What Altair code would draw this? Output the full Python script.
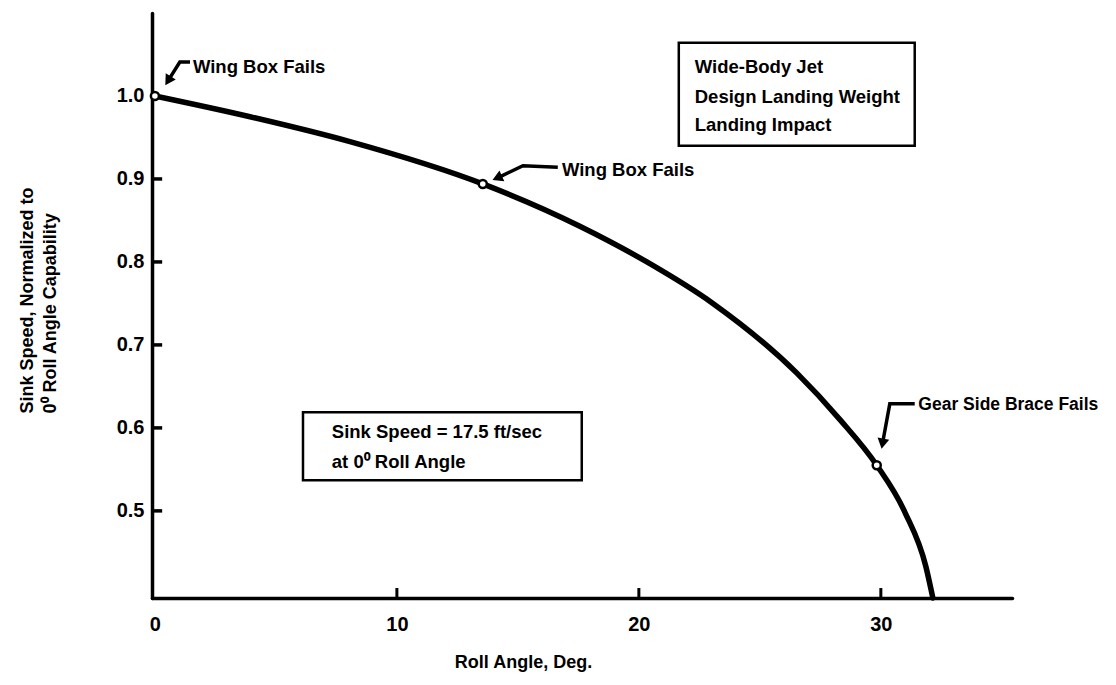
import altair as alt
import pandas as pd

FONT = "Liberation Sans"

# ---- data ----
roll_angle = [0.0, 3.93, 8.06, 13.55, 17.56, 20.33, 23.06, 26.53, 28.31, 29.83, 31.0, 31.86, 32.15]
sink_norm = [1.0, 0.975, 0.945, 0.894, 0.843, 0.800, 0.750, 0.666, 0.610, 0.555, 0.498, 0.433, 0.395]

fail_roll = [0.0, 13.55, 29.83]
fail_sink = [1.0, 0.894, 0.555]
fail_labels = ["Wing Box Fails", "Wing Box Fails", "Gear Side Brace Fails"]
label_x = [1.57, 16.82, 31.55]
label_y = [1.035, 0.911, 0.628]
label_size = [18.5, 18.5, 17.5]

# leader lines (group, order, x, y)
leader_g = [0, 0, 0, 1, 1, 1, 2, 2, 2]
leader_o = [0, 1, 2, 0, 1, 2, 0, 1, 2]
leader_x = [1.45, 1.03, 0.58, 16.65, 15.21, 14.21, 31.4, 30.37, 30.08]
leader_y = [1.041, 1.041, 1.020, 0.914, 0.916, 0.902, 0.629, 0.629, 0.583]
head_x = [0.58, 14.21, 30.08]
head_y = [1.020, 0.902, 0.583]
head_angle = [212, 246, 190]

x_ticks = [0, 10, 20, 30]
y_ticks = [0.5, 0.6, 0.7, 0.8, 0.9, 1.0]
y_minor = [0.5, 0.6, 0.7, 0.8, 0.9]
x_minor = [10, 20, 30]

X_DOMAIN = [-0.12, 35.42]
Y_DOMAIN = [0.395, 1.1]

box1_lines = ["Wide-Body Jet", "Design Landing Weight", "Landing Impact"]
box1_line_y = [1.035, 0.999, 0.965]
box1_text_x = 22.31
box1 = dict(x=21.65, x2=31.4, y=1.064, y2=0.940)

box2_lines = ["Sink Speed = 17.5 ft/sec", "at 0\u2070 Roll Angle"]
box2_line_y = [0.595, 0.559]
box2_text_x = 7.31
box2 = dict(x=6.12, x2=17.64, y=0.619, y2=0.537)

# ---- scales / axes ----
xscale = alt.Scale(domain=X_DOMAIN, nice=False, zero=False)
yscale = alt.Scale(domain=Y_DOMAIN, nice=False, zero=False)

xaxis = alt.Axis(
    values=x_ticks, format="d", ticks=False, grid=False,
    domainColor="black", domainWidth=3.5, domainCap="round",
    labelFont=FONT, labelFontSize=20, labelFontWeight="bold", labelColor="black",
    labelPadding=16, labelFlush=False, labelOverlap=False,
    title="Roll Angle, Deg.", titleFont=FONT, titleFontSize=18, titleFontWeight="bold",
    titleColor="black", titleX=371, titleY=69, titleAlign="center", titleBaseline="alphabetic",
)
yaxis = alt.Axis(
    values=y_ticks, format=".1f", ticks=False, grid=False,
    domainColor="black", domainWidth=3.5, domainCap="round",
    labelFont=FONT, labelFontSize=20, labelFontWeight="bold", labelColor="black",
    labelPadding=8, labelFlush=False, labelOverlap=False,
    title=["Sink Speed, Normalized to", "0\u2070 Roll Angle Capability"],
    titleFont=FONT, titleFontSize=18, titleFontWeight="bold", titleColor="black",
    titleAngle=270, titleAlign="left", titleBaseline="alphabetic",
    titleX=-120, titleY=400, titleLineHeight=23,
)


def X(field="x"):
    return alt.X(f"{field}:Q", scale=xscale, axis=xaxis)


def Y(field="y"):
    return alt.Y(f"{field}:Q", scale=yscale, axis=yaxis)


curve_df = pd.DataFrame({"x": roll_angle, "y": sink_norm})
curve = alt.Chart(curve_df).mark_line(
    color="black", strokeWidth=5.5, interpolate="monotone", strokeCap="round"
).encode(x=X(), y=Y())

# inward tick marks
ytick_df = pd.DataFrame({"y": y_minor})
ytick_df["x"] = X_DOMAIN[0]
ytick_df["x2"] = X_DOMAIN[0] + 0.42
yticks = alt.Chart(ytick_df).mark_rule(color="black", strokeWidth=3.5).encode(
    x=X(), x2="x2:Q", y=Y()
)
xtick_df = pd.DataFrame({"x": x_minor})
xtick_df["y"] = Y_DOMAIN[0]
xtick_df["y2"] = Y_DOMAIN[0] + 0.012
xticks = alt.Chart(xtick_df).mark_rule(color="black", strokeWidth=3).encode(
    x=X(), y=Y(), y2="y2:Q"
)

# boxes
box_df = pd.DataFrame([box1, box2])
boxes = alt.Chart(box_df).mark_rect(fill="white", stroke="black", strokeWidth=2.5).encode(
    x=X(), x2="x2:Q", y=Y(), y2="y2:Q"
)

box_text_df = pd.DataFrame({
    "t": box1_lines + box2_lines,
    "x": [box1_text_x] * len(box1_lines) + [box2_text_x] * len(box2_lines),
    "y": box1_line_y + box2_line_y,
})
box_text = alt.Chart(box_text_df).mark_text(
    align="left", baseline="middle", font=FONT, fontSize=18.5, fontWeight="bold", color="black"
).encode(x=X(), y=Y(), text="t:N")

# annotations
lab_df = pd.DataFrame({"x": label_x, "y": label_y, "t": fail_labels, "s": label_size})
labels = alt.Chart(lab_df).mark_text(
    align="left", baseline="middle", font=FONT, fontWeight="bold", color="black"
).encode(x=X(), y=Y(), text="t:N", size=alt.Size("s:Q", scale=None, legend=None))

lead_df = pd.DataFrame({"g": leader_g, "o": leader_o, "x": leader_x, "y": leader_y})
leaders = alt.Chart(lead_df).mark_line(color="black", strokeWidth=3.5).encode(
    x=X(), y=Y(), detail="g:N", order="o:Q"
)

head_df = pd.DataFrame({"x": head_x, "y": head_y, "a": head_angle})
heads = alt.Chart(head_df).mark_point(
    shape="triangle", filled=True, color="black", size=140, opacity=1
).encode(x=X(), y=Y(), angle=alt.Angle("a:Q", scale=None))

fail_df = pd.DataFrame({"x": fail_roll, "y": fail_sink})
fails = alt.Chart(fail_df).mark_point(
    shape="circle", filled=True, fill="white", stroke="black", strokeWidth=2.5, size=65, opacity=1
).encode(x=X(), y=Y())

chart = alt.layer(
    curve, yticks, xticks, boxes, box_text, leaders, heads, labels, fails
).properties(
    width=860, height=585,
    autosize=alt.AutoSizeParams(type="none"),
    padding={"left": 144, "top": 5, "right": 96, "bottom": 76},
    background="white",
).configure_view(stroke=None)

chart.save("out.html", embed_options={"renderer": "svg", "actions": False})
